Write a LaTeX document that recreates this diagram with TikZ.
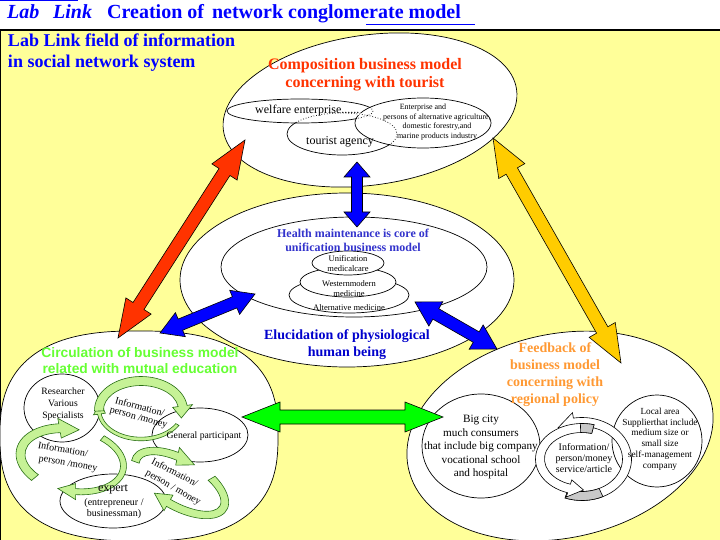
\documentclass[tikz,border=0pt]{standalone}
\usepackage{fontspec}
\setmainfont{Liberation Serif}
\newfontfamily\arialfont{Liberation Sans}
\usetikzlibrary{shapes.geometric,calc}
\definecolor{bgyellow}{RGB}{255,255,153}
\definecolor{redor}{RGB}{255,51,0}
\definecolor{goldy}{RGB}{255,204,0}
\definecolor{pureblue}{RGB}{0,0,255}
\definecolor{hblue}{RGB}{51,51,204}
\definecolor{eblue}{RGB}{0,0,204}
\definecolor{lgreen}{RGB}{102,255,51}
\definecolor{orangeT}{RGB}{255,153,51}
\definecolor{ringfill}{RGB}{198,242,150}
\definecolor{ringline}{RGB}{40,110,20}
\definecolor{arrgreen}{RGB}{0,255,0}
\definecolor{ribgray}{RGB}{200,200,200}

\tikzset{
  oval/.style={ellipse, draw=black, line width=0.7pt, fill=white, inner sep=0pt, outer sep=0pt},
  ovalline/.style={ellipse, draw=black, line width=0.7pt, inner sep=0pt, outer sep=0pt},
  fatarr/.style={draw=black, line width=0.6pt, line join=miter},
  ringst/.style={fill=ringfill, draw=ringline, line width=0.6pt},
  ribwhite/.style={fill=white, draw=black, line width=0.6pt},
  ribgrey/.style={fill=ribgray, draw=black, line width=0.6pt},
  lbl/.style={inner sep=0pt, outer sep=0pt, align=center},
  ringtxt/.style={inner sep=0pt, outer sep=0pt, font=\fontsize{10}{11}\selectfont},
}

\newdimen\faXa \newdimen\faYa \newdimen\faXb \newdimen\faYb
% #1 from, #2 to, #3 fill, #4 shaft half width, #5 head half width, #6 head length
\newcommand{\fatarrow}[6]{%
  \pgfextractx{\faXa}{\pgfpointanchor{#1}{center}}%
  \pgfextracty{\faYa}{\pgfpointanchor{#1}{center}}%
  \pgfextractx{\faXb}{\pgfpointanchor{#2}{center}}%
  \pgfextracty{\faYb}{\pgfpointanchor{#2}{center}}%
  \pgfmathsetmacro\faAng{atan2((\the\faYb)-(\the\faYa),(\the\faXb)-(\the\faXa))}%
  \pgfmathsetmacro\faLen{veclen((\the\faXb)-(\the\faXa),(\the\faYb)-(\the\faYa))}%
  \pgfmathsetmacro\faBase{\faLen-#6}%
  \draw[fatarr, fill=#3, shift={(\the\faXa,\the\faYa)}, rotate=\faAng]
    (0pt,0pt) -- (#6pt,#5pt) -- (#6pt,#4pt) -- (\faBase pt,#4pt) -- (\faBase pt,#5pt)
    -- (\faLen pt,0pt) -- (\faBase pt,-#5pt) -- (\faBase pt,-#4pt) -- (#6pt,-#4pt)
    -- (#6pt,-#5pt) -- cycle;}

% #1 style, #2 rx, #3 ry, #4 start, #5 end (head base), #6 tip angle, #7 band half width, #8 head half width
\newcommand{\bandarrow}[8]{%
  \path[#1] ({(#2+#7)*cos(#4)},{(#3+#7)*sin(#4)})
    arc[start angle=#4, end angle=#5, x radius={#2+#7}, y radius={#3+#7}]
    -- ({(#2+#8)*cos(#5)},{(#3+#8)*sin(#5)})
    -- ({#2*cos(#6)},{#3*sin(#6)})
    -- ({(#2-#8)*cos(#5)},{(#3-#8)*sin(#5)})
    -- ({(#2-#7)*cos(#5)},{(#3-#7)*sin(#5)})
    arc[start angle=#5, end angle=#4, x radius={#2-#7}, y radius={#3-#7}]
    -- cycle;}

\begin{document}
\begin{tikzpicture}[x=1pt,y=-1pt]
\useasboundingbox (0,0) rectangle (720,540);
\fill[white] (0,0) rectangle (720,540);
\path[fill=bgyellow, draw=black, line width=1.2pt] (0.6,30) rectangle (730,550);

% title
\draw[pureblue, line width=1.3pt] (0,0.7) -- (78,0.7);
\node[anchor=base west, inner sep=0pt, font=\fontsize{20}{24}\selectfont\bfseries\itshape, text=pureblue] (tLab) at (7,19) {Lab};
\node[anchor=base west, inner sep=0pt, font=\fontsize{20}{24}\selectfont\bfseries\itshape, text=pureblue] (tLink) at (53,19) {Link};
\node[anchor=base west, inner sep=0pt, font=\fontsize{20}{24}\selectfont\bfseries, text=pureblue] (tCre) at (107,19) {Creation of\hspace{3pt} network conglomerate model};
\draw[pureblue, line width=1pt] (366,24.5) -- (475,24.5);
\node[anchor=west, lbl, align=left, font=\fontsize{18}{21}\selectfont\bfseries, text=pureblue] (fieldT) at (8,52.5) {Lab Link field of information\\in social network system};

% main ellipses
\node[oval, minimum width=296pt, minimum height=150pt, rotate=8] (topE) at (370,110) {};
\node[oval, minimum width=334pt, minimum height=174pt] (midE) at (347,280) {};
\node[oval, minimum width=266pt, minimum height=100pt] (midI) at (354,267) {};
\coordinate (blE) at (139,436);
\draw[fill=white, line width=0.7pt] plot[domain=0.5:358.5, samples=180]
  ({139+139*sign(cos(\x))*abs(cos(\x))^(0.77)}, {436+105*sign(sin(\x))*abs(sin(\x))^(0.77)}) -- cycle;
\node[oval, minimum width=310pt, minimum height=204pt, rotate=12] (brE) at (560,436) {};

% top inner ellipses
\fill[white] (300,111) ellipse [x radius=73, y radius=12]
             (342,134) ellipse [x radius=55, y radius=21]
             (423,123) ellipse [x radius=68, y radius=25];
\node[ovalline, minimum width=146pt, minimum height=24pt] (welE) at (300,111) {};
\node[ovalline, minimum width=110pt, minimum height=42pt] (touE) at (342,134) {};
\node[ovalline, minimum width=136pt, minimum height=50pt] (entE) at (423,123) {};
\begin{scope}
  \clip (423,123) ellipse [x radius=67, y radius=24];
  \draw[white, line width=1.8pt] (300,111) ellipse [x radius=73, y radius=12]
                                 (342,134) ellipse [x radius=55, y radius=21];
  \draw[dotted, line width=0.7pt] (300,111) ellipse [x radius=73, y radius=12]
                                  (342,134) ellipse [x radius=55, y radius=21];
\end{scope}
\begin{scope}
  \clip (300,111) ellipse [x radius=72, y radius=11];
  \draw[white, line width=1.8pt] (342,134) ellipse [x radius=55, y radius=21];
  \draw[dotted, line width=0.7pt] (342,134) ellipse [x radius=55, y radius=21];
\end{scope}

% middle stacked ellipses
\node[oval, minimum width=120pt, minimum height=36pt] (altE) at (349,295) {};
\node[oval, minimum width=96pt, minimum height=30pt] (wesE) at (348,282) {};
\node[oval, minimum width=72pt, minimum height=24pt] (uniE) at (348,263) {};

% bottom-left inner ellipses
\node[oval, minimum width=76pt, minimum height=68pt] (resE) at (62,408) {};
\node[oval, minimum width=96pt, minimum height=54pt] (genE) at (200,435) {};
\node[oval, minimum width=106pt, minimum height=54pt] (expE) at (113,501) {};

% bottom-right inner ellipses
\node[oval, minimum width=118pt, minimum height=104pt] (bcE) at (481,446) {};
\node[oval, minimum width=90pt, minimum height=92pt] (laE) at (657,441) {};

% green circulation rings
\begin{scope}[shift={(141,410)}]
  \bandarrow{ringst}{42}{29}{30}{172}{196}{1.8}{6}
  \bandarrow{ringst}{42}{29}{178}{352}{376}{4.5}{10}
\end{scope}
\begin{scope}[shift={(72,460)}, rotate=-10]
  \bandarrow{ringst}{52}{31}{300}{440}{460}{3}{8}
  \bandarrow{ringst}{52}{31}{130}{250}{272}{4.5}{10}
\end{scope}
\begin{scope}[shift={(180,483)}, rotate=-30]
  \bandarrow{ringst}{50}{23}{300}{450}{470}{4}{9}
  \bandarrow{ringst}{50}{23}{170}{252}{274}{4}{9}
\end{scope}

% grey / white ribbon ring
\begin{scope}[shift={(582,459)}]
  \bandarrow{ribwhite}{45}{37}{110}{-100}{-122}{4.5}{10}
  \bandarrow{ribgrey}{45}{37}{110}{65}{65}{4.5}{4.5}
  \bandarrow{ribwhite}{42}{31}{-75}{-252}{-272}{4.5}{9}
  \bandarrow{ribgrey}{42}{31}{-75}{-92}{-92}{4.5}{4.5}
\end{scope}

% arrow end points
\coordinate (rA) at (245,140); \coordinate (rB) at (118,338);
\coordinate (yA) at (493,138); \coordinate (yB) at (621,363);
\coordinate (bA) at (357,162); \coordinate (bB) at (357,227);
\coordinate (lA) at (255,294); \coordinate (lB) at (160,333);
\coordinate (qA) at (415,302); \coordinate (qB) at (497,349);
\coordinate (gA) at (242,417); \coordinate (gB) at (443,417);

\fatarrow{rA}{rB}{redor}{6.5}{15}{38}
\fatarrow{yA}{yB}{goldy}{6.5}{15}{38}
\fatarrow{bA}{bB}{pureblue}{5.5}{13}{15}
\fatarrow{lA}{lB}{pureblue}{6}{13}{22}
\fatarrow{qA}{qB}{pureblue}{6}{14}{24}
\fatarrow{gA}{gB}{arrgreen}{7}{15}{38}

% texts
\node[lbl, font=\fontsize{16}{18}\selectfont\bfseries, text=redor] (compT) at (365,75) {Composition business model\\concerning with tourist};
\node[anchor=west, inner sep=0pt, font=\fontsize{12}{14}\selectfont] (welT) at (255,111) {welfare enterprise......};
\node[lbl, font=\fontsize{12}{14}\selectfont] (tourT) at (340,142) {tourist agency};
\node[lbl, font=\fontsize{8}{9.7}\selectfont] (entT) at (437,122) {Enterprise and\hspace*{28pt}\\persons of alternative agriculture,\\domestic forestry,and\\marine products industry};

\node[lbl, font=\fontsize{12}{14}\selectfont\bfseries, text=hblue] (hmT) at (353,240) {Health maintenance is core of\\unification business model};
\node[lbl, font=\fontsize{8.5}{10}\selectfont] (uniT) at (348,264) {Unification\\medicalcare};
\node[lbl, font=\fontsize{8.5}{9.5}\selectfont] (wesT) at (349,288.5) {Westernmodern\\medicine};
\node[lbl, font=\fontsize{8.5}{10}\selectfont] (altT) at (349,308) {Alternative medicine};
\node[lbl, font=\fontsize{14}{17}\selectfont\bfseries, text=eblue] (eluT) at (347,344.5) {Elucidation of physiological\\human being};

\node[lbl, font=\arialfont\fontsize{13.8}{16}\selectfont\bfseries, text=lgreen] (cirT) at (140,361) {Circulation of business model\\related with mutual education};
\node[lbl, font=\fontsize{9.7}{12}\selectfont] (resT) at (63,404) {Researcher\\Various\\Specialists};
\node[lbl, font=\fontsize{9.7}{12}\selectfont] (genT) at (204,436) {General participant};
\node[lbl, font=\fontsize{12}{14}\selectfont] (expT) at (113,489) {expert};
\node[lbl, font=\fontsize{10}{11}\selectfont] (expT2) at (114,508.5) {(entrepreneur /\\businessman)};
\node[ringtxt, rotate=-15] (inf1a) at (140,406.5) {Information/};
\node[ringtxt, rotate=-15] (inf1b) at (138.5,418) {person /money};
\node[ringtxt, rotate=-10] (inf2a) at (63,449) {Information/};
\node[ringtxt, rotate=-10] (inf2b) at (68,464) {person /money};
\node[ringtxt, rotate=-27] (inf3a) at (175,472) {Information/};
\node[ringtxt, rotate=-30] (inf3b) at (173,488) {person / money};

\node[lbl, font=\fontsize{14}{17}\selectfont\bfseries, text=orangeT] (fbT) at (555,374.5) {Feedback of\\business model\\concerning with\\regional policy};
\node[lbl, font=\fontsize{11.2}{13.5}\selectfont] (bcT) at (481,447) {Big city\\much consumers\\that include big company\\vocational school\\and hospital};
\node[lbl, font=\fontsize{9.3}{10.8}\selectfont] (laT) at (660,439) {Local area\\Supplierthat include\\medium size or\\small size\\self-management\\company};
\node[lbl, font=\fontsize{10}{11}\selectfont] (grT) at (584,458) {Information/\\person/money\\service/article};
\end{tikzpicture}
\end{document}
